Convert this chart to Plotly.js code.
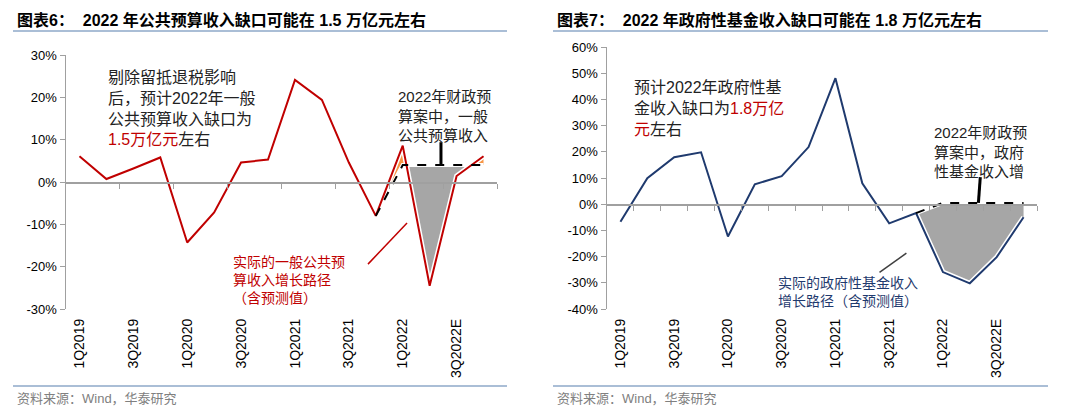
<!DOCTYPE html>
<html><head><meta charset="utf-8">
<script src="https://cdn.plot.ly/plotly-3.0.1.min.js"></script>
<style>html,body{margin:0;padding:0;background:#fff}#chart{width:1080px;height:414px}</style>
</head><body><div id="chart"></div>
<script>
// ---------- data ----------
const quarters = ['1Q2019','2Q2019','3Q2019','4Q2019','1Q2020','2Q2020','3Q2020','4Q2020','1Q2021','2Q2021','3Q2021','4Q2021','1Q2022','2Q2022','3Q2022E','4Q2022E'];
const tickLabels = ['1Q2019','3Q2019','1Q2020','3Q2020','1Q2021','3Q2021','1Q2022','3Q2022E'];
const publicActual = [6.1,0.7,3.2,5.8,-14.3,-7.2,4.6,5.3,24.1,19.4,4.6,-8.0,8.6,-24.5,1.4,6.1];
const publicBudget = [null,null,null,null,null,null,null,null,null,null,null,-8.0,4.0,4.0,4.0,4.0];
const fundActual = [-6.7,9.9,17.9,19.8,-12.3,7.6,10.7,21.8,48.1,8.0,-7.3,-3.4,-25.9,-30.2,-20.2,-5.0];
const fundBudget = [null,null,null,null,null,null,null,null,null,null,null,-3.4,0.5,0.5,0.5,0.5];
const leftYTicks = [-30,-20,-10,0,10,20,30];
const rightYTicks = [-40,-30,-20,-10,0,10,20,30,40,50,60];

// ---------- helpers ----------
const xi = quarters.map((q,i)=>i);
const labelVals = tickLabels.map(l=>quarters.indexOf(l));
const FONT = 'Liberation Sans, Arial, Noto Sans CJK SC, sans-serif';
const CJK = 'Liberation Sans, Noto Sans CJK SC, sans-serif';
const RED = '#c00000', NAVY = '#1f3a6e', GRAY = '#a6a6a6', ORANGE = '#f79646', AX = '#a0a0a0';

function gapRegions(actual, budget){
  const ids=[]; for(let i=0;i<actual.length;i++) if(budget[i]!==null) ids.push(i);
  const pts=[];
  for(let k=0;k<ids.length;k++){
    const i=ids[k]; pts.push({x:i,a:actual[i],b:budget[i]});
    if(k<ids.length-1){
      const j=ids[k+1]; const d0=actual[i]-budget[i], d1=actual[j]-budget[j];
      if(d0*d1<0){ const t=d0/(d0-d1); const y=budget[i]+t*(budget[j]-budget[i]); pts.push({x:i+t*(j-i),a:y,b:y}); }
    }
  }
  const runs=[]; let run=null;
  for(const p of pts){
    const d=p.a-p.b; const s=d>0?1:(d<0?-1:0);
    if(s===0){ if(run){run.pts.push(p); runs.push(run);} run={sign:0,pts:[p]}; continue; }
    if(!run) run={sign:s,pts:[]};
    if(run.sign===0) run.sign=s;
    run.pts.push(p);
  }
  if(run) runs.push(run);
  return runs.filter(r=>r.sign!==0&&r.pts.length>1).map(r=>{
    const rev=r.pts.slice().reverse();
    return {sign:r.sign, x:[...r.pts.map(p=>p.x),...rev.map(p=>p.x)], y:[...r.pts.map(p=>p.b),...rev.map(p=>p.a)]};
  });
}

function chartTraces(actual, budget, color, xa, ya, xz){
  const tr=[];
  gapRegions(actual,budget).forEach(r=>tr.push({x:r.x,y:r.y,xaxis:xa,yaxis:ya,type:'scatter',mode:'lines',fill:'toself',
    fillcolor:r.sign>0?ORANGE:GRAY,line:{width:0},hoverinfo:'skip',showlegend:false}));
  tr.push({x:xi,y:budget,xaxis:xa,yaxis:ya,mode:'lines',line:{color:'#fff',width:4},hoverinfo:'skip',showlegend:false});
  tr.push({x:xi,y:actual,xaxis:xa,yaxis:ya,mode:'lines',line:{color:'#fff',width:5},hoverinfo:'skip',showlegend:false});
  tr.push({x:xi,y:actual,xaxis:xa,yaxis:ya,mode:'lines',line:{color:color,width:2},showlegend:false});
  tr.push({x:xi,y:budget,xaxis:xa,yaxis:ya,mode:'lines',line:{color:'#000',width:2,dash:'dash'},showlegend:false});
  tr.push({x:[-0.5],y:[0],xaxis:xz,yaxis:ya,mode:'markers',marker:{opacity:0},hoverinfo:'skip',showlegend:false});
  return tr;
}

const traces=[...chartTraces(publicActual,publicBudget,RED,'x','y','x2'),
              ...chartTraces(fundActual,fundBudget,NAVY,'x3','y2','x4')];

// ---------- layout ----------
const W=1080,H=414;
const px = v=>v/W, py = v=>1-v/H;
const LXD=[px(66),px(497)], LYD=[py(309),py(55)];
const RXD=[px(607),px(1037)], RYD=[py(309),py(47)];
const LYR=[-30,30], RYR=[-40,60];
const zeroPos=(dom,r)=>dom[0]+(0-r[0])/(r[1]-r[0])*(dom[1]-dom[0]);
const XR=[-0.5,quarters.length-0.5];
const bound2=[], bound1=[];
for(let i=0;i<quarters.length;i++){ bound1.push(i+0.5); if(i%2===1) bound2.push(i+0.5); }

function labelAxis(dom,anchor){return {domain:dom,anchor:anchor,range:XR,tickvals:labelVals,ticktext:tickLabels,tickangle:-90,
  showline:false,showgrid:false,zeroline:false,ticks:'',ticklabelstandoff:6,tickfont:{family:FONT,size:14,color:'#000'}};}
function zeroAxis(dom,over,pos,vals){return {domain:dom,overlaying:over,anchor:'free',position:pos,range:XR,tickvals:vals,
  showticklabels:false,ticks:'outside',ticklen:5,tickcolor:AX,tickwidth:1,showline:true,linecolor:AX,linewidth:1.5,showgrid:false,zeroline:false};}
function yAxis(dom,anchor,r,vals){return {domain:dom,anchor:anchor,range:r,tickvals:vals,ticktext:vals.map(v=>v+'%'),
  showline:true,linecolor:AX,linewidth:1.5,ticks:'outside',ticklen:5,tickcolor:AX,showgrid:false,zeroline:false,
  tickfont:{family:FONT,size:13,color:'#000'}};}

function note(x,y,text,size,color){return {xref:'paper',yref:'paper',x:px(x),y:py(y),xanchor:'left',yanchor:'top',align:'left',
  showarrow:false,borderpad:0,text:text,font:{family:CJK,size:size,color:color}};}
const red=t=>`<span style="color:${RED}">${t}</span>`;

const annotations=[
  {xref:'paper',yref:'paper',x:px(15),y:py(20),xanchor:'left',yanchor:'middle',showarrow:false,
   text:'<b>图表6：  2022 年公共预算收入缺口可能在 1.5 万亿元左右</b>',font:{family:CJK,size:16,color:'#000'}},
  {xref:'paper',yref:'paper',x:px(555),y:py(20),xanchor:'left',yanchor:'middle',showarrow:false,
   text:'<b>图表7：  2022 年政府性基金收入缺口可能在 1.8 万亿元左右</b>',font:{family:CJK,size:16,color:'#000'}},
  {xref:'paper',yref:'paper',x:px(15),y:py(398),xanchor:'left',yanchor:'middle',showarrow:false,
   text:'资料来源：Wind，华泰研究',font:{family:CJK,size:13,color:'#808080'}},
  {xref:'paper',yref:'paper',x:px(555),y:py(398),xanchor:'left',yanchor:'middle',showarrow:false,
   text:'资料来源：Wind，华泰研究',font:{family:CJK,size:13,color:'#808080'}},
  note(107,68,'剔除留抵退税影响<br>后，预计2022年一般<br>公共预算收入缺口为<br>'+red('1.5万亿元')+'左右',16,'#222'),
  note(397,87,'2022年财政预<br>算案中，一般<br>公共预算收入',15,'#222'),
  note(232,253,'实际的一般公共预<br>算收入增长路径<br>（含预测值）',14,RED),
  note(633,78,'预计2022年政府性基<br>金收入缺口为'+red('1.8万亿')+'<br>'+red('元')+'左右',16,'#222'),
  note(933,123,'2022年财政预<br>算案中，政府<br>性基金收入增',15,'#222'),
  note(777,274,'实际的政府性基金收入<br>增长路径（含预测值）',14,NAVY)
];

const rule=(x0,x1,y)=>({type:'line',xref:'paper',yref:'paper',x0:px(x0),x1:px(x1),y0:py(y),y1:py(y),line:{color:'#8ea9c8',width:1.5}});
const shapes=[
  rule(13,507,31),rule(553,1048,31),rule(13,507,386),rule(553,1048,386),
  {type:'line',xref:'x',yref:'y',x0:10.71,y0:-19.4,x1:12.16,y1:-9.7,line:{color:RED,width:1.5}},
  {type:'line',xref:'x',yref:'y',x0:13.42,y0:9.4,x1:13.42,y1:4.0,line:{color:'#000',width:3}},
  {type:'line',xref:'x3',yref:'y2',x0:13.39,y0:10.3,x1:13.32,y1:0.5,line:{color:'#000',width:3}},
  {type:'line',xref:'x3',yref:'y2',x0:9.64,y0:-26,x1:10.64,y1:-18.7,line:{color:'#404040',width:1.5}}
];

const layout={width:W,height:H,margin:{l:0,r:0,t:0,b:0},paper_bgcolor:'#fff',plot_bgcolor:'rgba(0,0,0,0)',showlegend:false,
  xaxis:labelAxis(LXD,'y'), yaxis:yAxis(LYD,'x',LYR,leftYTicks),
  xaxis2:zeroAxis(LXD,'x',zeroPos(LYD,LYR),bound2),
  xaxis3:labelAxis(RXD,'y2'), yaxis2:yAxis(RYD,'x3',RYR,rightYTicks),
  xaxis4:zeroAxis(RXD,'x3',zeroPos(RYD,RYR),bound1),
  annotations:annotations, shapes:shapes};

Plotly.newPlot('chart',traces,layout,{staticPlot:true,displayModeBar:false});
</script></body></html>
